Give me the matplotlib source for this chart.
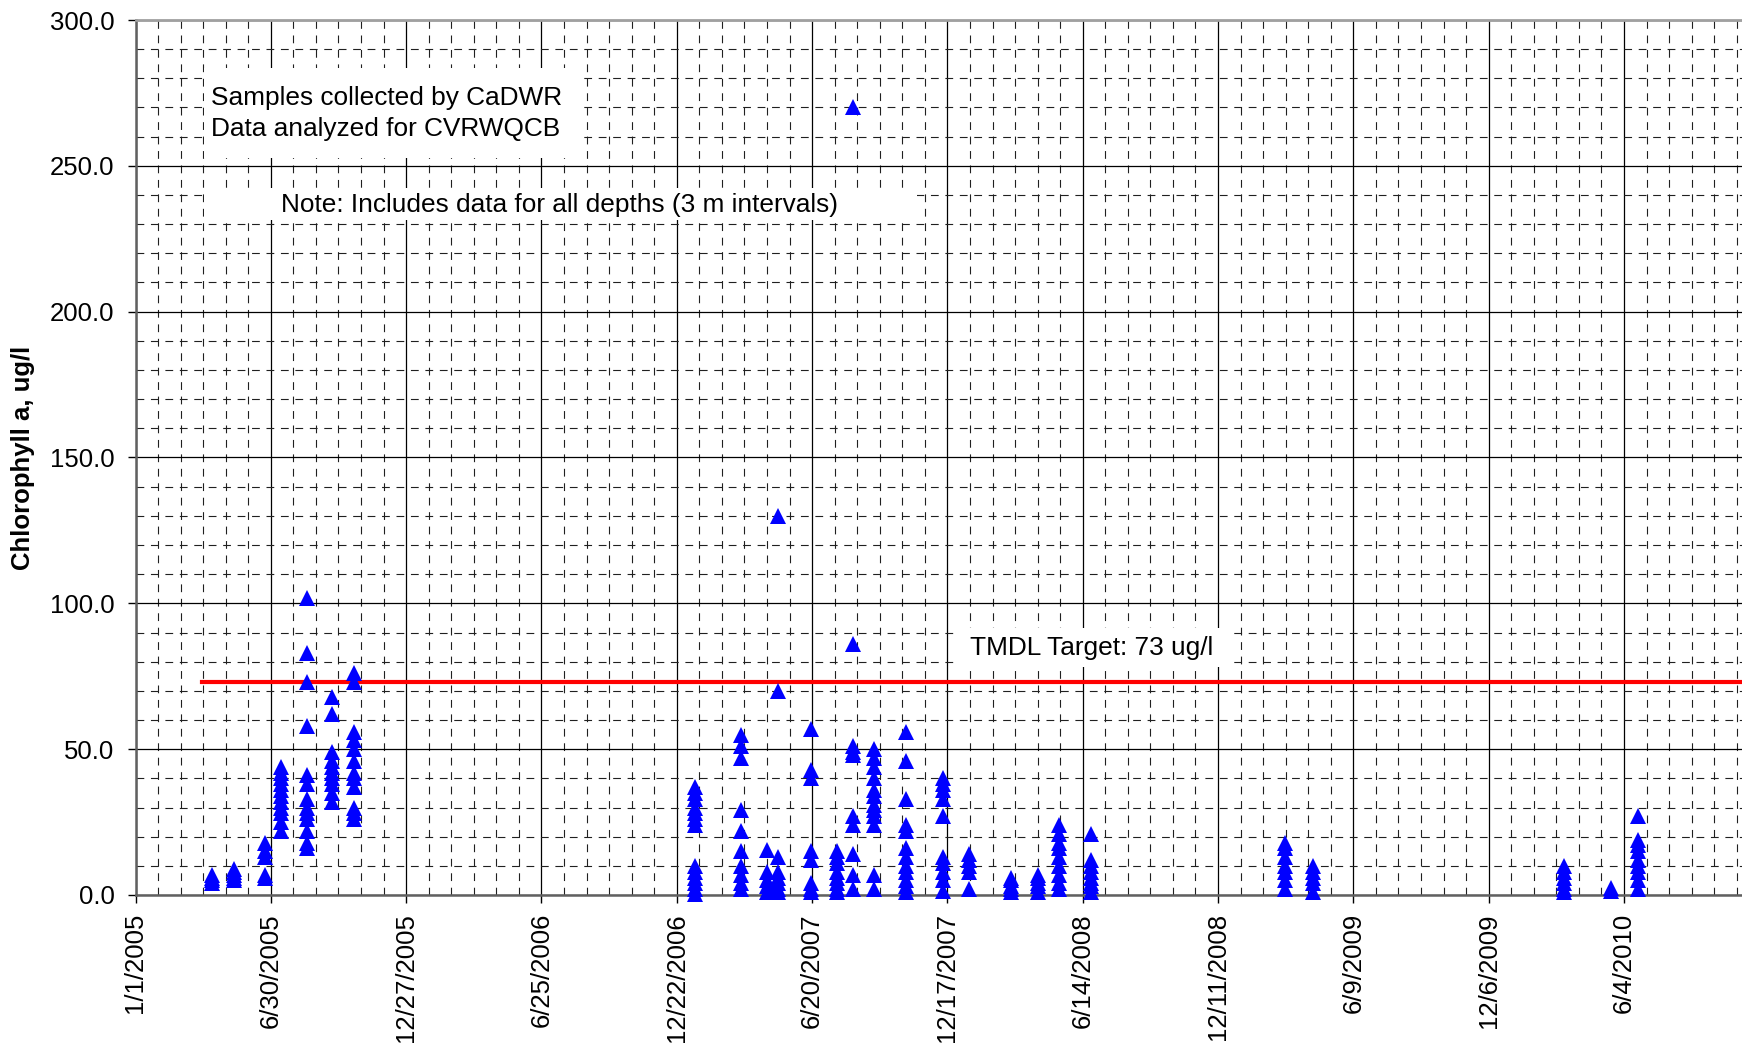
import numpy as np
import pandas as pd
import matplotlib
matplotlib.use("Agg")
import matplotlib.pyplot as plt
import matplotlib.dates as mdates
from matplotlib.patches import Rectangle
from matplotlib.ticker import FixedLocator, MultipleLocator, FuncFormatter

plt.rcParams['font.family'] = ['Liberation Sans', 'DejaVu Sans']

# sampling events (all depths) - chlorophyll a, ug/l
sample_dates = ["2005-04-13", "2005-05-12", "2005-06-22", "2005-07-14", "2005-08-17",
                "2005-09-20", "2005-10-19",
                "2007-01-15", "2007-03-18", "2007-04-21", "2007-05-06", "2007-06-18",
                "2007-07-23", "2007-08-13", "2007-09-10", "2007-10-23", "2007-12-11",
                "2008-01-15", "2008-03-11", "2008-04-16", "2008-05-13", "2008-06-25",
                "2009-03-10", "2009-04-16", "2010-03-16", "2010-05-18", "2010-06-22"]
chl_values = [
    [4, 5, 6, 7],
    [5, 6, 7, 8, 9],
    [6, 7, 13, 15, 18],
    [22, 25, 28, 30, 32, 34, 36, 38, 40, 42, 44],
    [16, 18, 22, 26, 28, 30, 33, 38, 41, 58, 73, 83, 102],
    [32, 35, 38, 40, 42, 44, 46, 49, 62, 68],
    [26, 28, 30, 37, 40, 42, 46, 50, 53, 56, 73, 76],
    [0.5, 2, 4, 6, 8, 10, 24, 26, 28, 30, 33, 35, 37],
    [2, 4, 7, 10, 15, 22, 29, 47, 51, 55],
    [1, 3, 5, 8, 15.5],
    [1, 2, 4, 6, 8, 13, 70, 130],
    [1, 2, 4, 12, 15, 40, 43, 57],
    [1, 2, 4, 6, 8, 11, 13, 15],
    [2, 7, 14, 24, 27, 48, 49, 51, 86, 270],
    [2, 7, 24, 27, 29, 31, 34, 36, 40, 44, 47, 50],
    [1, 3, 5, 8, 10, 13, 16, 22, 24, 33, 46, 56],
    [1.5, 5, 8, 11, 13, 27, 33, 36, 38, 40],
    [2, 8, 10, 12, 14],
    [1, 2, 3, 5, 6],
    [1, 3, 4, 6, 7],
    [2, 4, 7, 10, 13, 16, 18, 21, 24],
    [1, 3, 4, 6, 8, 10, 12, 21],
    [2, 5, 8, 10, 13, 16, 18],
    [1, 4, 6, 8, 10],
    [1, 2, 4, 6, 8, 10],
    [1.5, 2.5],
    [2, 5, 8, 10, 12, 15, 17, 19, 27],
]

tmdl_target = 73
tmdl_start = "2005-03-30"
axis_start = "2005-01-01"
axis_days = 2137

dates_flat = []
vals_flat = []
for d, vals in zip(sample_dates, chl_values):
    for v in vals:
        dates_flat.append(pd.Timestamp(d))
        vals_flat.append(v)

fig = plt.figure(figsize=(17.42, 10.48), dpi=100)
ax = fig.add_axes([135.5 / 1742, 1 - 895 / 1048, 1 - 135.5 / 1742, (895 - 20) / 1048])

x0 = pd.Timestamp(axis_start)
x1 = x0 + pd.Timedelta(days=axis_days)
ax.set_xlim(x0, x1)
ax.set_ylim(0, 300)

# major ticks every 180 days, minor every 30 days
major = mdates.date2num(pd.date_range(axis_start, x1, freq="180D"))
minor = mdates.date2num(pd.date_range(axis_start, x1, freq="30D"))
ax.xaxis.set_major_locator(FixedLocator(major))
ax.xaxis.set_minor_locator(FixedLocator(minor))
ax.xaxis.set_major_formatter(FuncFormatter(
    lambda x, pos: "{d.month}/{d.day}/{d.year}".format(d=mdates.num2date(x))))
ax.yaxis.set_major_locator(MultipleLocator(50))
ax.yaxis.set_minor_locator(MultipleLocator(10))
ax.yaxis.set_major_formatter(FuncFormatter(lambda y, pos: f"{y:.1f}"))

ax.grid(which='major', color='black', linewidth=0.9)
ax.grid(which='minor', color='#202020', linewidth=0.8, linestyle=(0, (7, 6)))
ax.set_axisbelow(True)

ax.tick_params(axis='both', which='major', labelsize=18.5, length=6, width=1,
               direction='out', pad=9)
ax.tick_params(axis='both', which='minor', length=0)
ax.tick_params(axis='x', labelrotation=90, pad=7)

ax.spines['right'].set_visible(False)
ax.spines['top'].set_color('#a0a0a0')
ax.spines['top'].set_linewidth(2)
ax.spines['left'].set_color('#606060')
ax.spines['left'].set_linewidth(1.8)
ax.spines['bottom'].set_color('#606060')
ax.spines['bottom'].set_linewidth(1.8)

ax.plot([pd.Timestamp(tmdl_start), x1], [tmdl_target, tmdl_target],
        color='#ff0000', linewidth=3, zorder=3)

ax.plot(dates_flat, vals_flat, linestyle='none', marker='^', markersize=12,
        color='#0000ff', markeredgewidth=0, zorder=4, clip_on=False)

ax.set_ylabel("Chlorophyll a, ug/l", fontsize=18.5, fontweight='bold', va='center')
ax.yaxis.set_label_coords((23 - 135.5) / 1606.5, 0.5)


def label_box(x_left, x_right, y_low, y_high):
    xa = mdates.date2num(pd.Timestamp(x_left))
    xb = mdates.date2num(pd.Timestamp(x_right))
    ax.add_patch(Rectangle((xa, y_low), xb - xa, y_high - y_low,
                           facecolor='white', edgecolor='none', zorder=2.5))


label_box("2005-04-02", "2006-08-21", 252.7, 283.5)
ax.text(pd.Timestamp("2005-04-11"), 268, "Samples collected by CaDWR\nData analyzed for CVRWQCB",
        fontsize=18.9, va='center', ha='left', linespacing=1.4, zorder=5)

label_box("2005-04-02", "2007-11-07", 231.4, 242.4)
ax.text(pd.Timestamp("2005-07-13"), 236.6, "Note: Includes data for all depths (3 m intervals)",
        fontsize=18.9, va='center', ha='left', zorder=5)

label_box("2007-12-27", "2008-12-27", 78.2, 91.5)
ax.text(pd.Timestamp("2008-01-16"), 84.7, "TMDL Target: 73 ug/l",
        fontsize=18.9, va='center', ha='left', zorder=5)

fig.savefig("out.png", dpi=100)
